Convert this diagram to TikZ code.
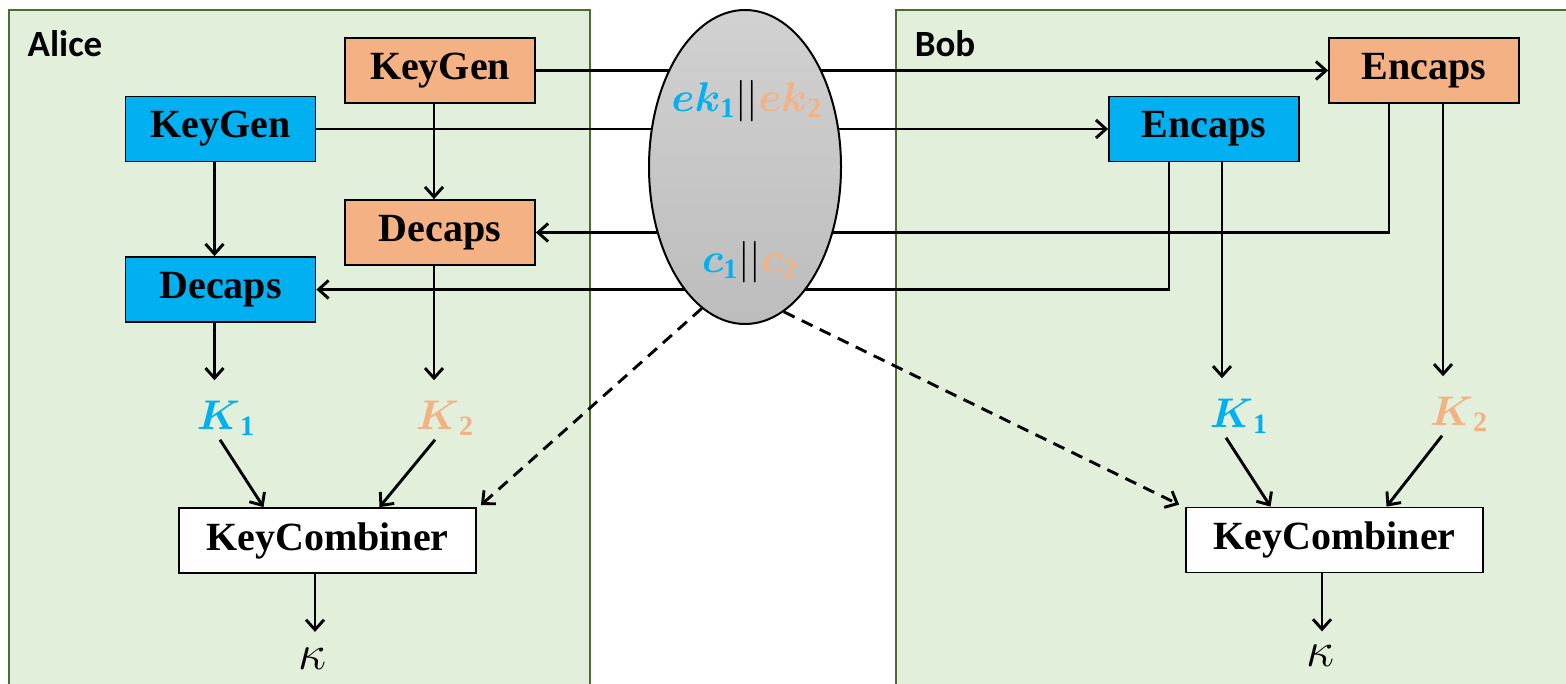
\documentclass[tikz,border=0pt]{standalone}
\usepackage{amsmath}
\usepackage{fontspec}
\setmainfont{Liberation Serif}
\newfontfamily\calib{Carlito}
\usetikzlibrary{arrows.meta,shapes.geometric}
\definecolor{cblue}{HTML}{00B0F0}
\definecolor{corange}{HTML}{F4B183}
\definecolor{cgreen}{HTML}{E2EFDA}
\definecolor{cborder}{HTML}{4E6B30}
\begin{document}
\begin{tikzpicture}[x=0.5pt,y=-0.5pt,
  box/.style={draw=black, line width=0.9pt, minimum width=95pt, minimum height=32.5pt, inner sep=0pt, font=\fontsize{20}{22}\selectfont\bfseries},
  bluebox/.style={box, fill=cblue},
  orangebox/.style={box, fill=corange},
  kcbox/.style={box, fill=white, minimum width=148.5pt},
  keylbl/.style={inner sep=2pt, font=\fontsize{20}{24}\selectfont},
  who/.style={font=\fontsize{18.5}{20}\selectfont\calib\bfseries, inner sep=0pt},
  arr/.style={line width=1.45pt, -{Straight Barb[length=5pt,width=9pt]}},
  panel/.style={fill=cgreen, draw=cborder, line width=1pt}]
\useasboundingbox (0,0) rectangle (1566,684);
\clip (0,0) rectangle (1566,684);
% panels
\draw[panel] (9,10) rectangle (590,720);
\draw[panel] (896,10) rectangle (1620,720);
\node[who] (alice) at (65,44) {Alice};
\node[who] (bob) at (945,44) {Bob};
% Alice boxes
\node[orangebox] (aKG2) at (440,70.5) {KeyGen};
\node[bluebox] (aKG1) at (220.5,129) {KeyGen};
\node[orangebox] (aDC2) at (440,232.5) {Decaps};
\node[bluebox] (aDC1) at (220.5,289.5) {Decaps};
\node[keylbl, text=cblue] (aK1) at (226,418) {$\boldsymbol{K}_{\mathbf{1}}$};
\node[keylbl, text=corange] (aK2) at (445,418) {$\boldsymbol{K}_{\mathbf{2}}$};
\node[kcbox] (aKC) at (327.5,540.5) {KeyCombiner};
\node[keylbl, inner sep=0pt, font=\fontsize{24}{26}\selectfont] (aKap) at (313,659) {$\kappa$};
% Bob boxes
\node[orangebox] (bEN2) at (1424,70.5) {Encaps};
\node[bluebox] (bEN1) at (1204,129) {Encaps};
\node[keylbl, text=cblue] (bK1) at (1239,416) {$\boldsymbol{K}_{\mathbf{1}}$};
\node[keylbl, text=corange] (bK2) at (1459,414) {$\boldsymbol{K}_{\mathbf{2}}$};
\node[kcbox] (bKC) at (1334.5,540) {KeyCombiner};
\node[keylbl, inner sep=0pt, font=\fontsize{24}{26}\selectfont] (bKap) at (1320,656) {$\kappa$};
% exchange lines (behind the channel)
\draw[arr] (aKG2.east) -- (bEN2.west);
\draw[arr] (aKG1.east) -- (bEN1.west);
\draw[arr] ([xshift=-17.5pt]bEN2.south) |- (aDC2.east);
\draw[arr] ([xshift=-17.5pt]bEN1.south) |- (aDC1.east);
% channel
\node[ellipse, draw=black, line width=1pt, minimum width=96pt, minimum height=157pt, inner sep=0pt,
      top color=black!18, bottom color=black!26] (ch) at (745,167) {};
\node[keylbl, inner sep=0pt] (ekt) at (747,101) {$\boldsymbol{\color{cblue}ek}_{\color{cblue}\mathbf{1}}||\boldsymbol{\color{corange}ek}_{\color{corange}\mathbf{2}}$};
\node[keylbl, inner sep=0pt] (ct) at (750,262) {$\boldsymbol{\color{cblue}c}_{\color{cblue}\mathbf{1}}||\boldsymbol{\color{corange}c}_{\color{corange}\mathbf{2}}$};
% Alice flow
\draw[arr] ([xshift=-3pt]aKG1.south) -- ([xshift=-3pt]aDC1.north);
\draw[arr] ([xshift=-3pt]aKG2.south) -- ([xshift=-3pt]aDC2.north);
\draw[arr] ([xshift=-3pt]aDC1.south) -- ([xshift=-3pt,yshift=8pt]aDC1.south |- aK1.north);
\draw[arr] ([xshift=-3pt]aDC2.south) -- ([xshift=-3pt,yshift=8pt]aDC2.south |- aK2.north);
\draw[arr] ([xshift=-3pt]aK1.south) -- ([xshift=-32pt]aKC.north);
\draw[arr] ([xshift=-5pt]aK2.south) -- ([xshift=26pt]aKC.north);
\draw[arr] ([xshift=-6.25pt]aKC.south) -- ([xshift=-6.25pt,yshift=-29pt]aKC.south);
% Bob flow
\draw[arr] ([xshift=9pt]bEN1.south) -- ([xshift=9pt,yshift=8pt]bEN1.south |- bK1.north);
\draw[arr] ([xshift=9.5pt]bEN2.south) -- ([xshift=9.5pt,yshift=8pt]bEN2.south |- bK2.north);
\draw[arr] ([xshift=-6.5pt]bK1.south) -- ([xshift=-32pt]bKC.north);
\draw[arr] ([xshift=-8.5pt]bK2.south) -- ([xshift=26pt]bKC.north);
\draw[arr] ([xshift=-6.25pt]bKC.south) -- ([xshift=-6.25pt,yshift=-29pt]bKC.south);
% dashed links
\draw[arr, dash pattern=on 6pt off 4pt] (ch.253) -- ([xshift=2pt,yshift=1pt]aKC.north east);
\draw[arr, dash pattern=on 6pt off 4pt] (ch.285) -- ([xshift=-3pt,yshift=1pt]bKC.north west);
\end{tikzpicture}
\end{document}
